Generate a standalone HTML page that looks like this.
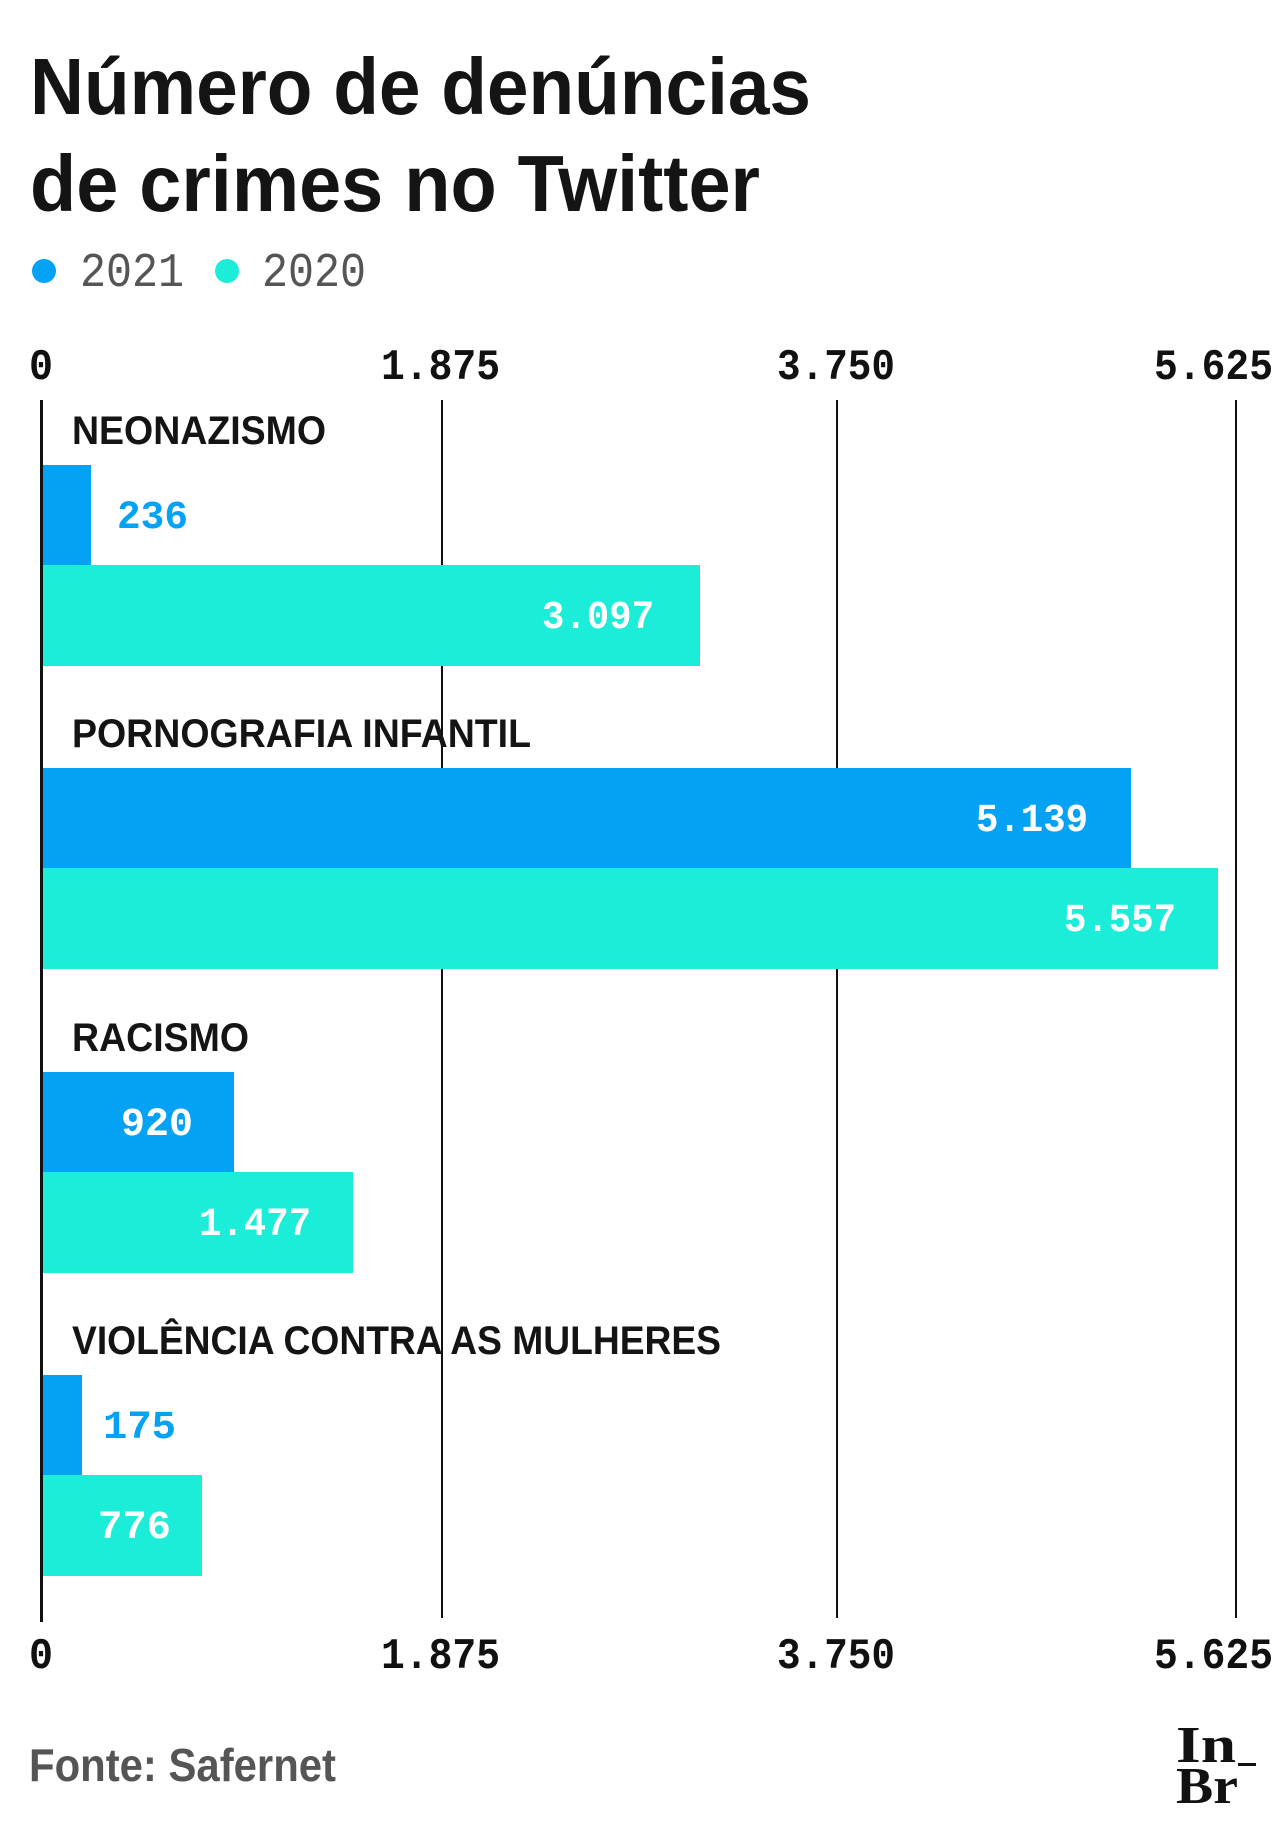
<!DOCTYPE html>
<html><head><meta charset="utf-8"><style>
html,body{margin:0;padding:0;background:#fff;}
svg{display:block;}
.t{font-family:"Liberation Sans",sans-serif;font-weight:bold;fill:#141414;}
.m{font-family:"Liberation Mono",monospace;font-weight:bold;}
</style></head><body>
<svg width="1280" height="1840" viewBox="0 0 1280 1840" xmlns="http://www.w3.org/2000/svg">
<rect width="1280" height="1840" fill="#fff"/>
<text class="t" x="30" y="114" font-size="80" textLength="781" lengthAdjust="spacingAndGlyphs">Número de denúncias</text>
<text class="t" x="30" y="211" font-size="80" textLength="730" lengthAdjust="spacingAndGlyphs">de crimes no Twitter</text>
<circle cx="44" cy="271" r="12" fill="#03a2f5"/>
<text class="m" x="80" y="286" font-size="48" fill="#555" style="font-weight:normal" textLength="104" lengthAdjust="spacingAndGlyphs">2021</text>
<circle cx="227" cy="271" r="12" fill="#1cedd8"/>
<text class="m" x="262" y="286" font-size="48" fill="#555" style="font-weight:normal" textLength="104" lengthAdjust="spacingAndGlyphs">2020</text>
<g class="m" font-size="44" fill="#111">
<text x="29" y="379" textLength="24" lengthAdjust="spacingAndGlyphs">0</text>
<text x="381" y="379" textLength="119" lengthAdjust="spacingAndGlyphs">1.875</text>
<text x="777" y="379" textLength="118" lengthAdjust="spacingAndGlyphs">3.750</text>
<text x="1154" y="379" textLength="119" lengthAdjust="spacingAndGlyphs">5.625</text>
<text x="29" y="1668" textLength="24" lengthAdjust="spacingAndGlyphs">0</text>
<text x="381" y="1668" textLength="119" lengthAdjust="spacingAndGlyphs">1.875</text>
<text x="777" y="1668" textLength="118" lengthAdjust="spacingAndGlyphs">3.750</text>
<text x="1154" y="1668" textLength="119" lengthAdjust="spacingAndGlyphs">5.625</text>
</g>
<g fill="#111">
<rect x="441" y="400" width="2" height="1218"/>
<rect x="836" y="400" width="2" height="1218"/>
<rect x="1235" y="400" width="2" height="1218"/>
</g>
<rect x="41" y="465" width="50" height="100" fill="#03a2f5"/>
<rect x="41" y="565" width="659" height="101" fill="#1cedd8"/>
<rect x="41" y="768" width="1090" height="100" fill="#03a2f5"/>
<rect x="41" y="868" width="1177" height="101" fill="#1cedd8"/>
<rect x="41" y="1072" width="193" height="100" fill="#03a2f5"/>
<rect x="41" y="1172" width="312" height="101" fill="#1cedd8"/>
<rect x="41" y="1375" width="41" height="100" fill="#03a2f5"/>
<rect x="41" y="1475" width="161" height="101" fill="#1cedd8"/>
<rect x="40" y="400" width="3" height="1222" fill="#111"/>
<g class="t" font-size="40">
<text x="72" y="444" textLength="254" lengthAdjust="spacingAndGlyphs">NEONAZISMO</text>
<text x="72" y="747" textLength="459" lengthAdjust="spacingAndGlyphs">PORNOGRAFIA INFANTIL</text>
<text x="72" y="1051" textLength="177" lengthAdjust="spacingAndGlyphs">RACISMO</text>
<text x="72" y="1354" textLength="649" lengthAdjust="spacingAndGlyphs">VIOLÊNCIA CONTRA AS MULHERES</text>
</g>
<g class="m" font-size="40">
<text x="117" y="528" fill="#03a2f5" textLength="71" lengthAdjust="spacingAndGlyphs">236</text>
<text x="654" y="628" fill="#fff" text-anchor="end" textLength="112" lengthAdjust="spacingAndGlyphs">3.097</text>
<text x="1088" y="831" fill="#fff" text-anchor="end" textLength="112" lengthAdjust="spacingAndGlyphs">5.139</text>
<text x="1176" y="931" fill="#fff" text-anchor="end" textLength="112" lengthAdjust="spacingAndGlyphs">5.557</text>
<text x="121" y="1135" fill="#fff" textLength="72" lengthAdjust="spacingAndGlyphs">920</text>
<text x="311" y="1235" fill="#fff" text-anchor="end" textLength="112" lengthAdjust="spacingAndGlyphs">1.477</text>
<text x="103" y="1438" fill="#03a2f5" textLength="73" lengthAdjust="spacingAndGlyphs">175</text>
<text x="98" y="1538" fill="#fff" textLength="73" lengthAdjust="spacingAndGlyphs">776</text>
</g>
<text class="t" x="29" y="1781" font-size="46" style="fill:#555" textLength="307" lengthAdjust="spacingAndGlyphs">Fonte: Safernet</text>
<g font-family="Liberation Serif,serif" font-weight="bold" fill="#111">
<text x="1176" y="1762" font-size="52" textLength="60" lengthAdjust="spacingAndGlyphs">In</text>
<text x="1176" y="1803" font-size="52" textLength="62" lengthAdjust="spacingAndGlyphs">Br</text>
</g>
<rect x="1238" y="1763" width="18" height="3" fill="#111"/>
</svg>
</body></html>
